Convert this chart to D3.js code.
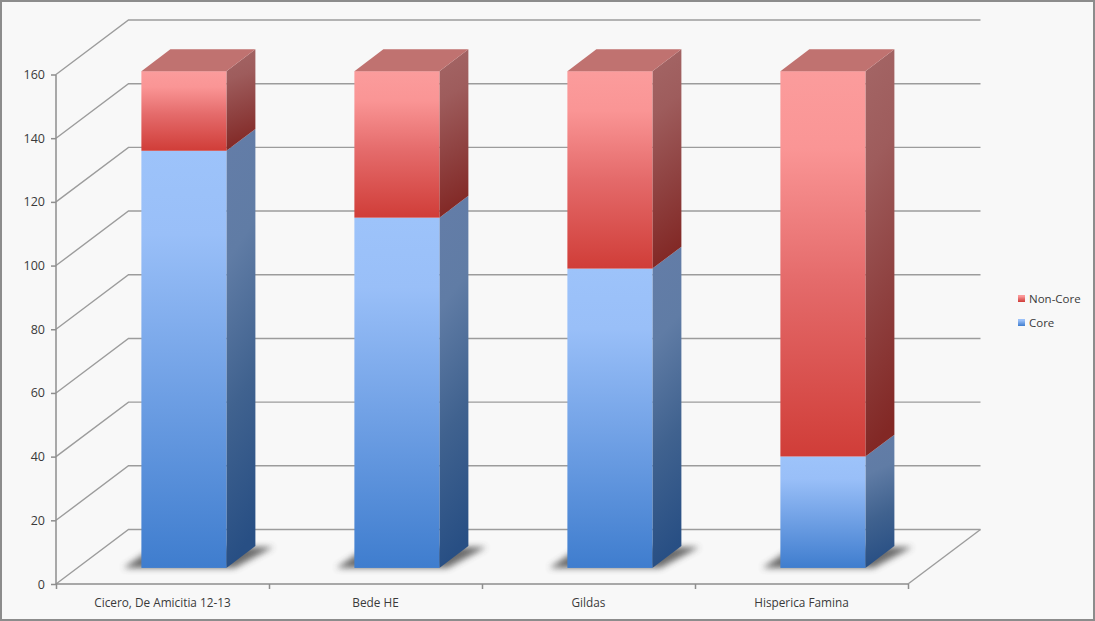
<!DOCTYPE html>
<html>
<head>
<meta charset="utf-8">
<style>
  html, body { margin: 0; padding: 0; background: #f8f8f8; }
  svg { display: block; }
  text { font-family: "Open Sans", "Noto Sans", sans-serif; fill: #3a3a3a; }
</style>
<script src="https://cdn.jsdelivr.net/npm/d3@7"></script>
</head>
<body>
<svg id="chart" width="1095" height="621"></svg>
<script>
const categories = ["Cicero, De Amicitia 12-13", "Bede HE", "Gildas", "Hisperica Famina"];
const coreValues = [131, 110, 94, 35];
const nonCoreValues = [25, 46, 62, 121];
const yTicks = [0, 20, 40, 60, 80, 100, 120, 140, 160];
const legendLabels = ["Non-Core", "Core"];

const W = 1095, H = 621;
const svg = d3.select("#chart");

// Front plane of the 3D box
const x = d3.scaleBand().domain(categories).range([56, 908]).paddingInner(0).paddingOuter(0);
const y = d3.scaleLinear().domain([0, 160]).range([584, 74.5]);

// Depth offset of the chart box: 0 is the front plane, 1 the back wall
const depthX = 72.5, depthY = -54.5;
const project = (px, py, d) => [px + depthX * d, py + depthY * d];

// Bars sit between these two depth positions
const barNear = 0.295, barFar = 0.695, barWidth = 85;

const defs = svg.append("defs");
function linear(id, stops, x2 = 0, y2 = 1) {
  const g = defs.append("linearGradient").attr("id", id)
    .attr("x1", 0).attr("y1", 0).attr("x2", x2).attr("y2", y2);
  stops.forEach(([o, c]) => g.append("stop").attr("offset", o).attr("stop-color", c));
}
linear("blueFront", [[0, "#9dc3fa"], [0.2, "#99bff8"], [0.55, "#72a2e6"], [1, "#3f7dce"]]);
linear("blueSide", [[0, "#647da8"], [0.3, "#607ca5"], [0.65, "#40628f"], [1, "#284f84"]], 0.1, 1);
linear("redFront", [[0, "#fb9c9c"], [0.2, "#fa9595"], [0.55, "#e46a6a"], [1, "#d03d38"]]);
linear("redSide", [[0, "#a46666"], [0.3, "#9e5c5c"], [0.65, "#8f4241"], [1, "#822825"]], 0.1, 1);
defs.append("filter").attr("id", "floorShadow")
  .attr("x", "-20%").attr("y", "-30%").attr("width", "140%").attr("height", "160%")
  .append("feGaussianBlur").attr("stdDeviation", 3);

svg.append("rect").attr("x", 1).attr("y", 1).attr("width", W - 2).attr("height", H - 2)
  .attr("fill", "#f8f8f8").attr("stroke", "#8c8c8c").attr("stroke-width", 2);

// Box walls: gridlines on the back wall and left side wall
const gridColor = "#9c9c9c";
const walls = svg.append("g").attr("fill", "none").attr("stroke", gridColor).attr("stroke-width", 1.4);
yTicks.forEach(t => {
  const [bx, by] = project(x.range()[0], y(t), 1);
  const [ex] = project(x.range()[1], y(t), 1);
  walls.append("path").attr("d", d3.line()([[x.range()[0], y(t)], [bx, by], [ex, by]]));
});
walls.append("path").attr("d", d3.line()([[x.range()[1], y(0)], project(x.range()[1], y(0), 1)]));

// Axes on the front plane
const yAxis = d3.axisLeft(y).tickValues(yTicks).tickSize(5).tickPadding(6);
const gy = svg.append("g").attr("transform", "translate(56,0)").call(yAxis);
const xAxisScale = d3.scalePoint().domain(d3.range(categories.length + 1)).range(x.range());
const gx = svg.append("g").attr("transform", `translate(0,${y(0)})`)
  .call(d3.axisBottom(xAxisScale).tickSize(5).tickFormat(""));
[gy, gx].forEach(g => {
  g.selectAll("path,line").attr("stroke", "#8e8e8e").attr("stroke-width", 1.5);
  g.select("path.domain").attr("d", g === gy
    ? `M0,${y(160)}V${y(0)}`
    : `M${x.range()[0]},0H${x.range()[1]}`);
});
gy.selectAll("text").style("font-size", "12.5px").style("fill", "#3a3a3a");

svg.append("g").selectAll("text").data(categories).join("text")
  .attr("x", d => x(d) + x.bandwidth() / 2)
  .attr("y", y(0) + 23)
  .attr("text-anchor", "middle")
  .style("font-size", "11.8px")
  .text(d => d);

// Bars
categories.forEach((cat, i) => {
  const frontLeft = x(cat) + (x.bandwidth() - barWidth) / 2;
  const base = frontLeft + depthX * barNear;
  const right = base + barWidth;
  const lift = depthY * barNear;
  const sx = depthX * (barFar - barNear), sy = depthY * (barFar - barNear);
  const g = svg.append("g");

  // Soft shadow cast across the floor
  const floorY = y(0) + lift;
  g.append("path")
    .attr("d", d3.line()([
      [base - 18, floorY], [right + 8, floorY],
      [right + sx + 18, floorY + sy + 1], [base + sx - 16, floorY + sy + 1]
    ]) + "Z")
    .attr("fill", "#4a4a4a").attr("opacity", 0.8).attr("filter", "url(#floorShadow)");

  const core = coreValues[i], non = nonCoreValues[i];
  const segments = [
    { v0: 0, v1: core, front: "blueFront", side: "blueSide" },
    { v0: core, v1: core + non, front: "redFront", side: "redSide" }
  ];
  segments.forEach(s => {
    const y0 = y(s.v0) + lift, y1 = y(s.v1) + lift;
    g.append("path")
      .attr("d", d3.line()([[right, y0], [right + sx, y0 + sy], [right + sx, y1 + sy], [right, y1]]) + "Z")
      .attr("fill", `url(#${s.side})`);
    g.append("rect").attr("x", base).attr("y", y1)
      .attr("width", barWidth).attr("height", y0 - y1)
      .attr("fill", `url(#${s.front})`);
  });
  const topY = y(core + non) + lift;
  g.append("path")
    .attr("d", d3.line()([[base, topY], [right, topY], [right + sx, topY + sy], [base + sx, topY + sy]]) + "Z")
    .attr("fill", "#c07270");
});

// Legend
const legend = svg.append("g");
legendLabels.forEach((label, i) => {
  const ly = 299 + i * 24;
  legend.append("rect").attr("x", 1018).attr("y", ly - 4).attr("width", 7).attr("height", 7)
    .attr("fill", label === "Core" ? "url(#blueFront)" : "url(#redFront)");
  legend.append("text").attr("x", 1029).attr("y", ly + 4)
    .style("font-size", "11.5px").text(label);
});
</script>
</body>
</html>
